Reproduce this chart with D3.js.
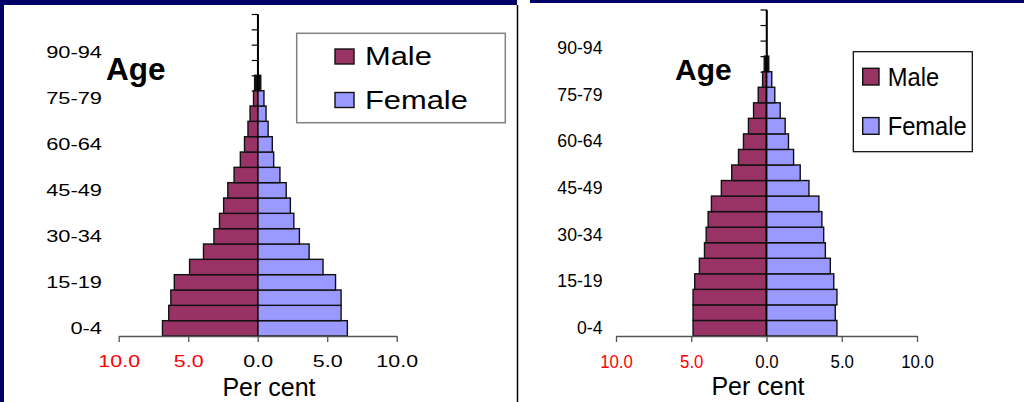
<!DOCTYPE html>
<html>
<head>
<meta charset="utf-8">
<script src="https://cdn.jsdelivr.net/npm/d3@7"></script>
<style>
  body { margin: 0; background: #fff; }
  svg { display: block; font-family: "Liberation Sans", Arial, sans-serif; }
</style>
</head>
<body>
<svg id="chart"></svg>
<script>
// age groups, bottom to top
let ages = ["0-4", "5-9", "10-14", "15-19", "20-24", "25-29", "30-34", "35-39", "40-44", "45-49",
            "50-54", "55-59", "60-64", "65-69", "70-74", "75-79", "80-84", "85-89", "90-94", "95-99", "100+"];
let ageLabels = ["0-4", "15-19", "30-34", "45-49", "60-64", "75-79", "90-94"];
let xTicks = [-10, -5, 0, 5, 10];
let seriesNames = ["Male", "Female"];

// left pyramid (per cent)
let maleA = [6.85, 6.4, 6.25, 6.0, 4.9, 3.9, 3.15, 2.75, 2.45, 2.15, 1.7, 1.25, 0.95, 0.7, 0.55, 0.3, 0.22];
let femaleA = [6.45, 6.0, 6.0, 5.6, 4.7, 3.7, 3.0, 2.6, 2.35, 2.05, 1.6, 1.15, 1.05, 0.75, 0.6, 0.45, 0.22];

// right pyramid (per cent)
let maleB = [4.88, 4.88, 4.88, 4.77, 4.46, 4.12, 4.01, 3.88, 3.66, 3.0, 2.31, 1.86, 1.53, 1.2, 0.86, 0.55, 0.26, 0.15];
let femaleB = [4.68, 4.57, 4.68, 4.47, 4.24, 3.91, 3.8, 3.68, 3.48, 2.82, 2.24, 1.8, 1.46, 1.24, 0.91, 0.55, 0.35, 0.15];

let width = 1024;
let height = 402;
let maleColor = "#993366";
let femaleColor = "#9999ff";
let navy = "#000066";

let svg = d3.select("#chart").attr("width", width).attr("height", height);

// stretch text horizontally like the squashed slide images
let stretch = (sel, k) => {
    sel.each(function () {
        let w = this.getComputedTextLength();
        d3.select(this).attr("textLength", w * k).attr("lengthAdjust", "spacingAndGlyphs");
    });
};

// frame
svg.append("rect").attr("x", 0).attr("y", 0).attr("width", 517).attr("height", 5).attr("fill", navy);
svg.append("rect").attr("x", 0).attr("y", 0).attr("width", 4).attr("height", height).attr("fill", navy);
svg.append("rect").attr("x", 530).attr("y", 0).attr("width", 494).attr("height", 3).attr("fill", navy);
svg.append("line").attr("x1", 517.5).attr("x2", 517.5).attr("y1", 5).attr("y2", height)
    .attr("stroke", "#000").attr("stroke-width", 1.5);

let drawPyramid = (cfg) => {
    let g = svg.append("g");

    let xScale = d3.scaleLinear().domain([-10, 10]).range([cfg.left, cfg.right]);
    let yScale = d3.scaleBand().domain(ages).range([cfg.bottom, cfg.top]).padding(0);
    let yLin = d3.scaleLinear().domain([0, ages.length]).range([cfg.bottom, cfg.top]);

    // y axis with ticks at band edges
    g.append("g")
        .attr("transform", `translate(${xScale(0)}, 0)`)
        .call(d3.axisLeft(yLin).tickValues(d3.range(ages.length + 1)).tickFormat("").tickSize(6).tickSizeOuter(0))
        .call(a => a.selectAll("line").attr("stroke", "#000").attr("stroke-width", 1.2))
        .call(a => a.select(".domain").attr("stroke", "#000").attr("stroke-width", 1.5));

    // bars (very thin ones render as solid outline)
    let rows = cfg.male.map((v, i) => ({ age: ages[i], male: v, female: cfg.female[i] }));
    g.selectAll(".male").data(rows).enter().append("rect")
        .attr("class", "male")
        .attr("x", d => xScale(-d.male))
        .attr("y", d => yScale(d.age))
        .attr("width", d => xScale(0) - xScale(-d.male))
        .attr("height", yScale.bandwidth())
        .attr("fill", d => d.male < 0.25 ? "#111" : maleColor)
        .attr("stroke", "#111")
        .attr("stroke-width", 1.4);
    g.selectAll(".female").data(rows).enter().append("rect")
        .attr("class", "female")
        .attr("x", xScale(0))
        .attr("y", d => yScale(d.age))
        .attr("width", d => xScale(d.female) - xScale(0))
        .attr("height", yScale.bandwidth())
        .attr("fill", d => d.female < 0.25 ? "#111" : femaleColor)
        .attr("stroke", "#111")
        .attr("stroke-width", 1.4);

    // centre line on top
    g.append("line")
        .attr("x1", xScale(0)).attr("x2", xScale(0))
        .attr("y1", cfg.top).attr("y2", cfg.bottom)
        .attr("stroke", "#000").attr("stroke-width", 1.5);

    // x axis
    let xAxis = g.append("g")
        .attr("transform", `translate(0, ${cfg.bottom})`)
        .call(d3.axisBottom(xScale).tickValues(xTicks).tickFormat(d => Math.abs(d).toFixed(1))
            .tickSize(6).tickSizeOuter(0).tickPadding(cfg.xPad))
        .call(a => a.select(".domain").attr("stroke", "#555").attr("stroke-width", 1.3))
        .call(a => a.selectAll("line").attr("stroke", "#555").attr("stroke-width", 1.3));
    xAxis.selectAll("text")
        .attr("font-family", "Liberation Sans, Arial, sans-serif")
        .attr("font-size", cfg.tickFont)
        .attr("fill", d => d < 0 ? "#ff0000" : "#000");
    stretch(xAxis.selectAll("text"), cfg.xStretch);

    // age labels
    let yAxis = g.append("g")
        .attr("transform", `translate(${cfg.labelX}, 0)`)
        .call(d3.axisLeft(yScale).tickValues(ageLabels).tickSize(0).tickPadding(0))
        .call(a => a.select(".domain").remove());
    yAxis.selectAll("text")
        .attr("font-family", "Liberation Sans, Arial, sans-serif")
        .attr("font-size", cfg.ageFont)
        .attr("fill", "#000");
    stretch(yAxis.selectAll("text"), cfg.yStretch);

    // titles
    g.append("text")
        .attr("x", cfg.ageX).attr("y", cfg.ageY)
        .attr("font-size", cfg.ageTitleFont).attr("font-weight", "bold")
        .text("Age");
    g.append("text")
        .attr("x", cfg.perX).attr("y", cfg.perY)
        .attr("text-anchor", "middle")
        .attr("font-size", 25)
        .text("Per cent");

    // legend
    let lg = cfg.legend;
    g.append("rect")
        .attr("x", lg.x).attr("y", lg.y).attr("width", lg.w).attr("height", lg.h)
        .attr("fill", "#fff").attr("stroke", lg.stroke).attr("stroke-width", lg.sw);
    let colors = [maleColor, femaleColor];
    seriesNames.forEach((name, i) => {
        g.append("rect")
            .attr("x", lg.sx).attr("y", lg.rows[i] - lg.ss)
            .attr("width", lg.sw2).attr("height", lg.ss)
            .attr("fill", colors[i]).attr("stroke", "#111").attr("stroke-width", 1.4);
        let t = g.append("text")
            .attr("x", lg.tx).attr("y", lg.rows[i] + 1)
            .attr("font-size", lg.font)
            .text(name);
        stretch(t, lg.stretch);
    });
};

drawPyramid({
    male: maleA, female: femaleA,
    left: 118.7, right: 396.7, top: 14, bottom: 336,
    xPad: 13, tickFont: 17, xStretch: 1.26,
    labelX: 102, ageFont: 16.3, yStretch: 1.34,
    ageX: 106, ageY: 80, ageTitleFont: 31.5,
    perX: 269, perY: 396,
    legend: { x: 296.7, y: 33.3, w: 208.6, h: 89.4, stroke: "#808080", sw: 1.5,
              sx: 335, sw2: 19, ss: 15, rows: [64, 107.5], tx: 365, font: 25.5, stretch: 1.21 }
});

drawPyramid({
    male: maleB, female: femaleB,
    left: 616, right: 917, top: 9.5, bottom: 336,
    xPad: 14, tickFont: 17.5, xStretch: 0.96,
    labelX: 602.5, ageFont: 18, yStretch: 0.98,
    ageX: 675, ageY: 80, ageTitleFont: 30,
    perX: 758, perY: 395,
    legend: { x: 853.3, y: 51.7, w: 119, h: 100, stroke: "#000", sw: 1.2,
              sx: 862.7, sw2: 16.3, ss: 16.7, rows: [85, 134.3], tx: 887.7, font: 25.5, stretch: 0.93 }
});
</script>
</body>
</html>
